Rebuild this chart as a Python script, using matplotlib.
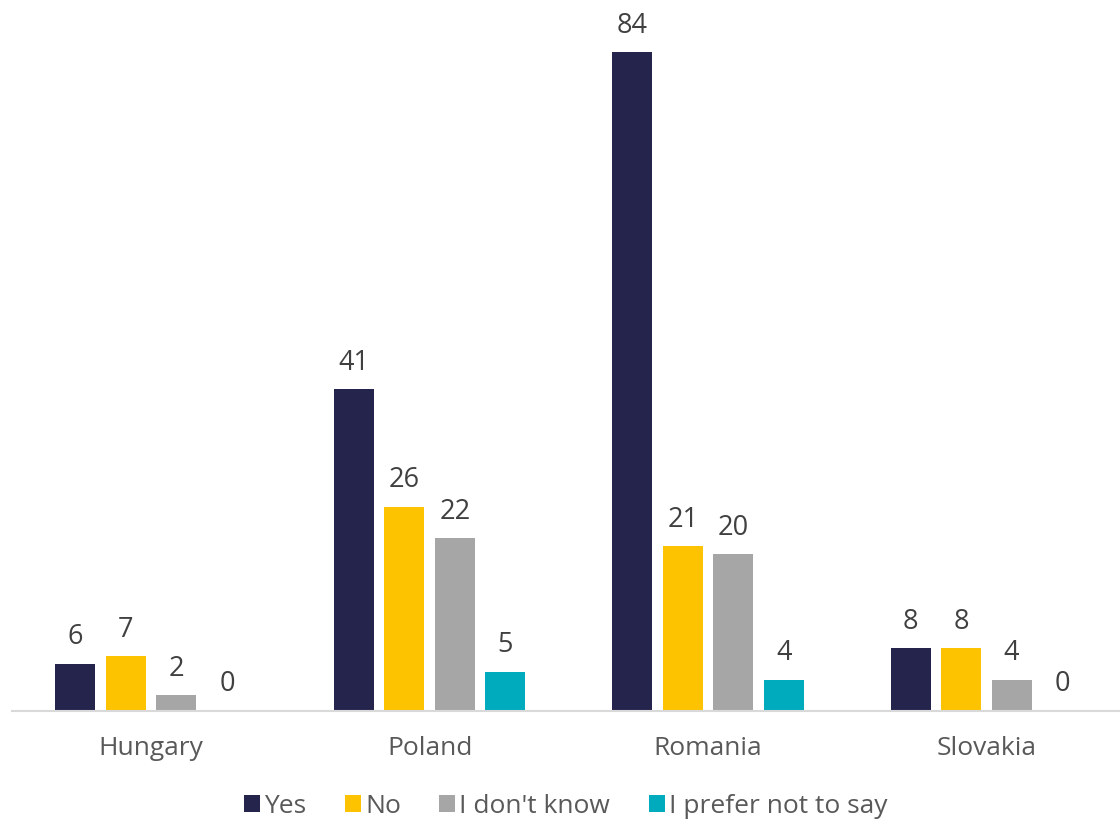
import matplotlib
matplotlib.use("Agg")
import matplotlib.pyplot as plt
import numpy as np

countries = ["Hungary", "Poland", "Romania", "Slovakia"]
series = ["Yes", "No", "I don't know", "I prefer not to say"]
yes = [6, 41, 84, 8]
no = [7, 26, 21, 8]
dont_know = [2, 22, 20, 4]
prefer_not = [0, 5, 4, 0]
colors = ["#25244c", "#fdc300", "#a6a6a6", "#00abbd"]

plt.rcParams['font.family'] = ['Open Sans', 'DejaVu Sans']
fig = plt.figure(figsize=(11.2, 8.21), dpi=100)
W, H = 1120, 821
ax = fig.add_axes([12 / W, (H - 711) / H, 1108 / W, 706 / H])

x = np.arange(len(countries))
step = 0.1813
width = 0.1436
data = [yes, no, dont_know, prefer_not]
handles = []
for i, (vals, c, name) in enumerate(zip(data, colors, series)):
    pos = x + (i - 1.5) * step
    b = ax.bar(pos, vals, width, color=c, label=name)
    handles.append(b)
    for p, v in zip(pos, vals):
        ax.text(p, v + 1.6, str(v), ha="center", va="bottom", fontsize=19.5, color="#404040")

ax.set_xlim(-0.5, 3.48)
ax.set_ylim(0, 90)
ax.set_xticks(x)
ax.set_xticklabels(countries, fontsize=19, color="#595959")
ax.tick_params(axis="x", length=0, pad=18)
ax.set_yticks([])
for s in ["top", "right", "left"]:
    ax.spines[s].set_visible(False)
ax.spines["bottom"].set_color("#d9d9d9")
ax.spines["bottom"].set_linewidth(1.5)

fig.legend(handles=handles, labels=series, loc="center", bbox_to_anchor=(0.505, (H - 806) / H),
           ncol=4, frameon=False, fontsize=19, handlelength=0.62, handleheight=0.62,
           handletextpad=0.15, columnspacing=1.45, labelcolor="#595959")

fig.savefig("out.png", dpi=100)
